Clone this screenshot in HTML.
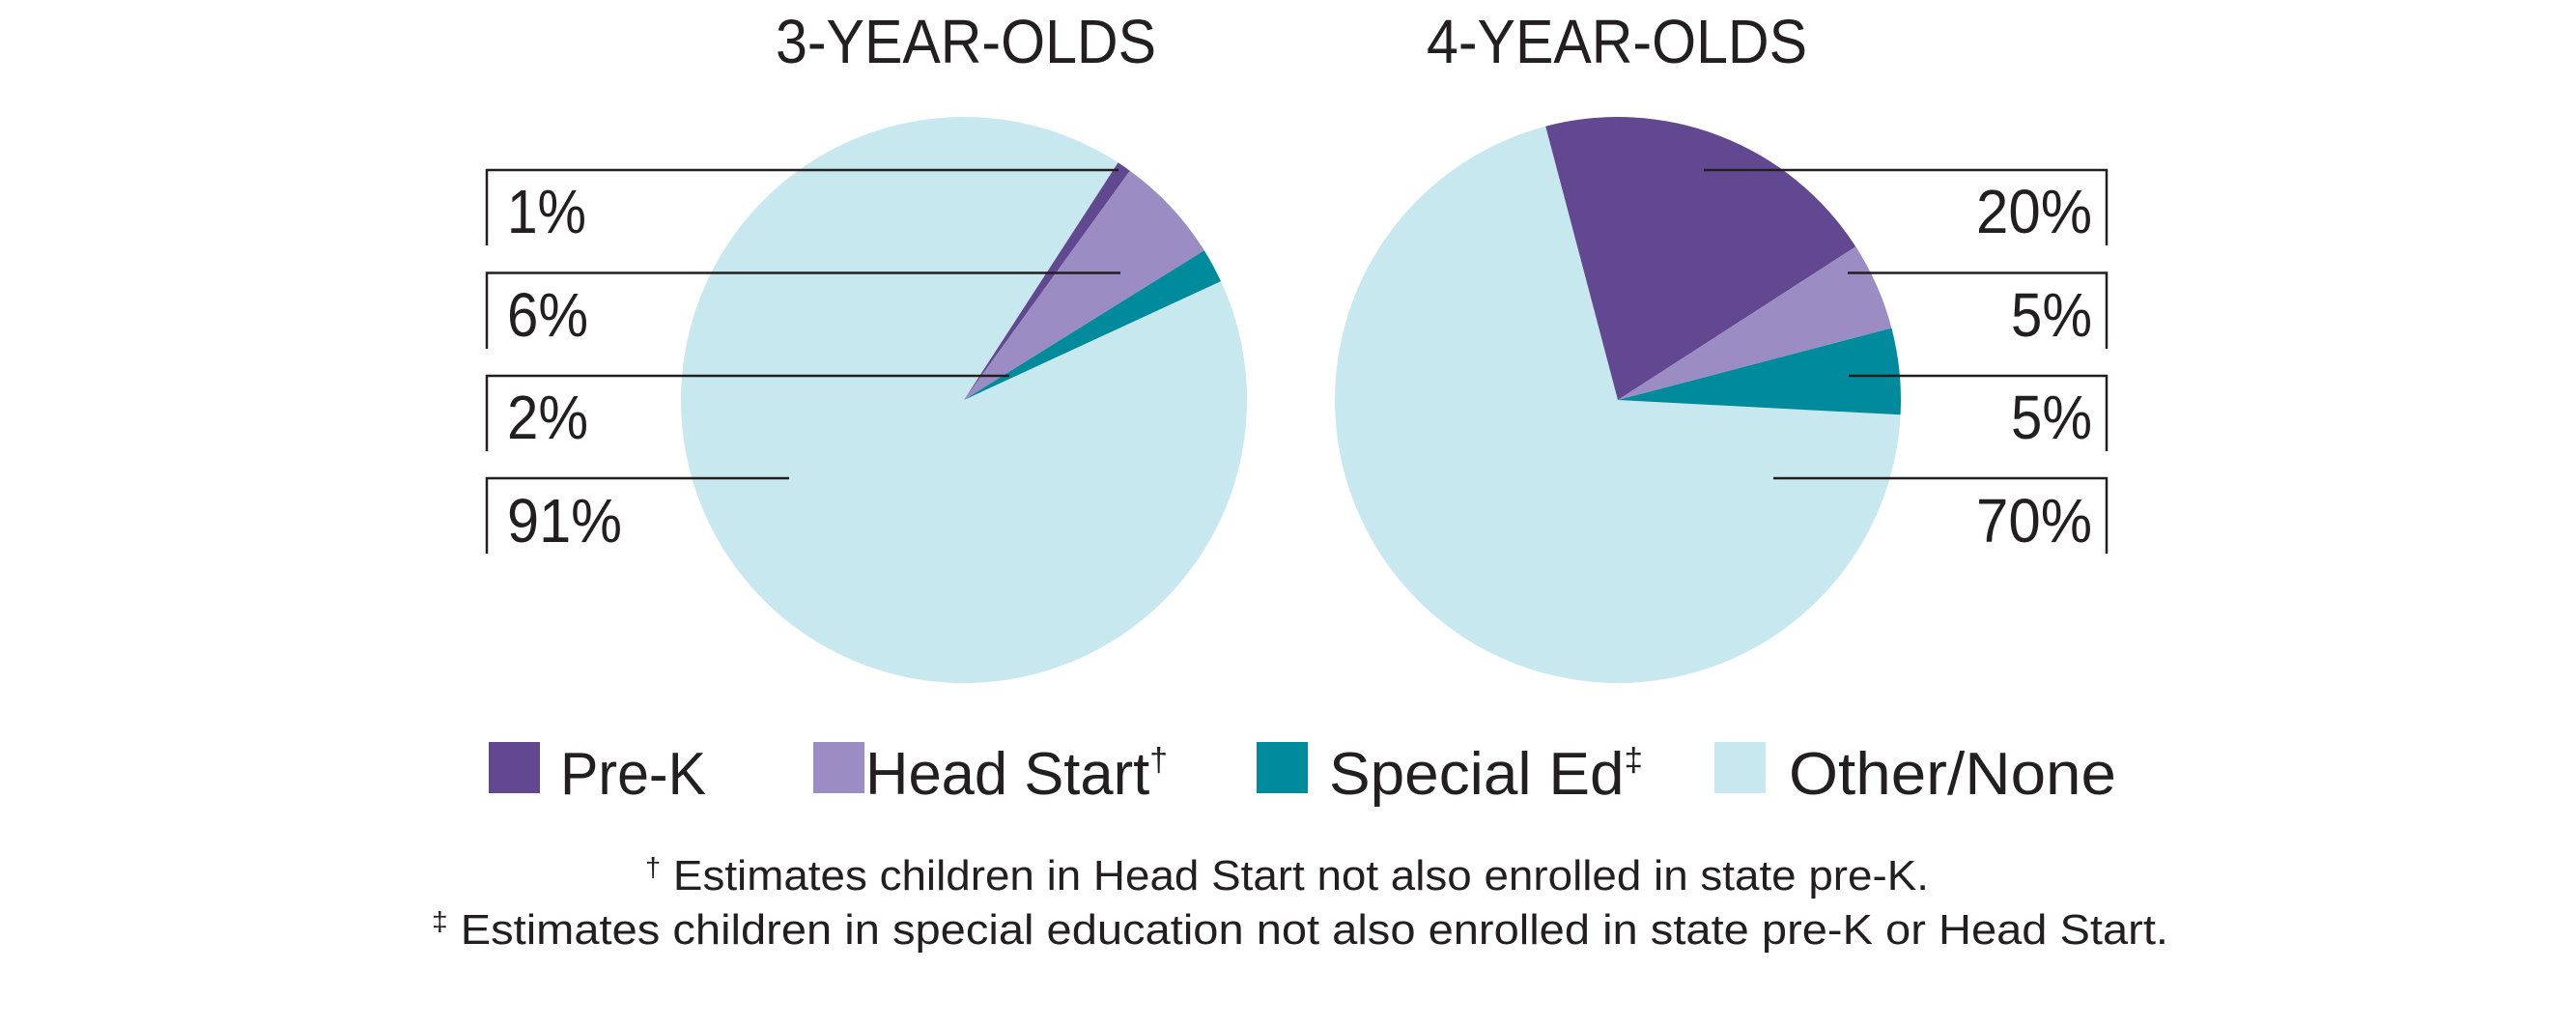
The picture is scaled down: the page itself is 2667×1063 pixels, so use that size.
<!DOCTYPE html>
<html><head><meta charset="utf-8"><style>
html,body{margin:0;padding:0;background:#fff;}
svg{display:block;}
text{font-family:"Liberation Sans",sans-serif;fill:#231f20;}
</style></head><body>
<svg width="2667" height="1063" viewBox="0 0 2667 1063" xmlns="http://www.w3.org/2000/svg">
<rect width="2667" height="1063" fill="#fff"/>
<text x="803" y="65" font-size="64" textLength="394" lengthAdjust="spacingAndGlyphs">3-YEAR-OLDS</text>
<text x="1477" y="65" font-size="64" textLength="394" lengthAdjust="spacingAndGlyphs">4-YEAR-OLDS</text>

<path d="M998 414 L1264.0 291.1 A293 293 0 1 1 1157.6 168.3 Z" fill="#c6e8ee"/>
<path d="M998 414 L1157.6 168.3 A293 293 0 0 1 1169.8 176.7 Z" fill="#624890"/>
<path d="M998 414 L1169.8 176.7 A293 293 0 0 1 1246.8 259.2 Z" fill="#9b8dc3"/>
<path d="M998 414 L1246.8 259.2 A293 293 0 0 1 1264.0 291.1 Z" fill="#008b9c"/>

<path d="M1675 414 L1967.6 429.3 A293 293 0 1 1 1600.2 130.7 Z" fill="#c6e8ee"/>
<path d="M1675 414 L1600.2 130.7 A293 293 0 0 1 1921.3 255.3 Z" fill="#624890"/>
<path d="M1675 414 L1921.3 255.3 A293 293 0 0 1 1958.4 339.6 Z" fill="#9b8dc3"/>
<path d="M1675 414 L1958.4 339.6 A293 293 0 0 1 1967.6 429.3 Z" fill="#008b9c"/>

<g stroke="#231f20" stroke-width="2.5" fill="none">
<path d="M504 254 V176 H1158"/>
<path d="M504 361 V282.5 H1160"/>
<path d="M504 467 V389 H1045"/>
<path d="M504 573 V495 H817"/>
<path d="M1764 176 H2181 V254"/>
<path d="M1913 282.5 H2181 V361"/>
<path d="M1914 389 H2181 V467"/>
<path d="M1836 495 H2181 V573"/>
</g>
<g font-size="64">
<text x="525" y="241" textLength="82" lengthAdjust="spacingAndGlyphs">1%</text>
<text x="525" y="348" textLength="84" lengthAdjust="spacingAndGlyphs">6%</text>
<text x="525" y="454" textLength="84" lengthAdjust="spacingAndGlyphs">2%</text>
<text x="525" y="561" textLength="119" lengthAdjust="spacingAndGlyphs">91%</text>
<text x="2046" y="241" textLength="120" lengthAdjust="spacingAndGlyphs">20%</text>
<text x="2082" y="348" textLength="84" lengthAdjust="spacingAndGlyphs">5%</text>
<text x="2082" y="454" textLength="84" lengthAdjust="spacingAndGlyphs">5%</text>
<text x="2046" y="561" textLength="120" lengthAdjust="spacingAndGlyphs">70%</text>
</g>

<rect x="506" y="768" width="53" height="53" fill="#624890"/>
<rect x="842" y="768" width="53" height="53" fill="#9b8dc3"/>
<rect x="1301" y="768" width="53" height="53" fill="#008b9c"/>
<rect x="1775" y="768" width="53" height="53" fill="#c6e8ee"/>
<g font-size="62">
<text x="580" y="822" textLength="151" lengthAdjust="spacingAndGlyphs">Pre-K</text>
<text x="896" y="822" textLength="313" lengthAdjust="spacingAndGlyphs">Head Start<tspan font-size="34" dy="-24">†</tspan></text>
<text x="1376" y="822" textLength="325" lengthAdjust="spacingAndGlyphs">Special Ed<tspan font-size="34" dy="-24">‡</tspan></text>
<text x="1852" y="822" textLength="339" lengthAdjust="spacingAndGlyphs">Other/None</text>
</g>

<g font-size="44">
<text x="668" y="921" textLength="1329" lengthAdjust="spacingAndGlyphs"><tspan font-size="28" dy="-14">†</tspan><tspan dy="14"> Estimates children in Head Start not also enrolled in state pre-K.</tspan></text>
<text x="447" y="977" textLength="1798" lengthAdjust="spacingAndGlyphs"><tspan font-size="28" dy="-14">‡</tspan><tspan dy="14"> Estimates children in special education not also enrolled in state pre-K or Head Start.</tspan></text>
</g>
</svg>
</body></html>
